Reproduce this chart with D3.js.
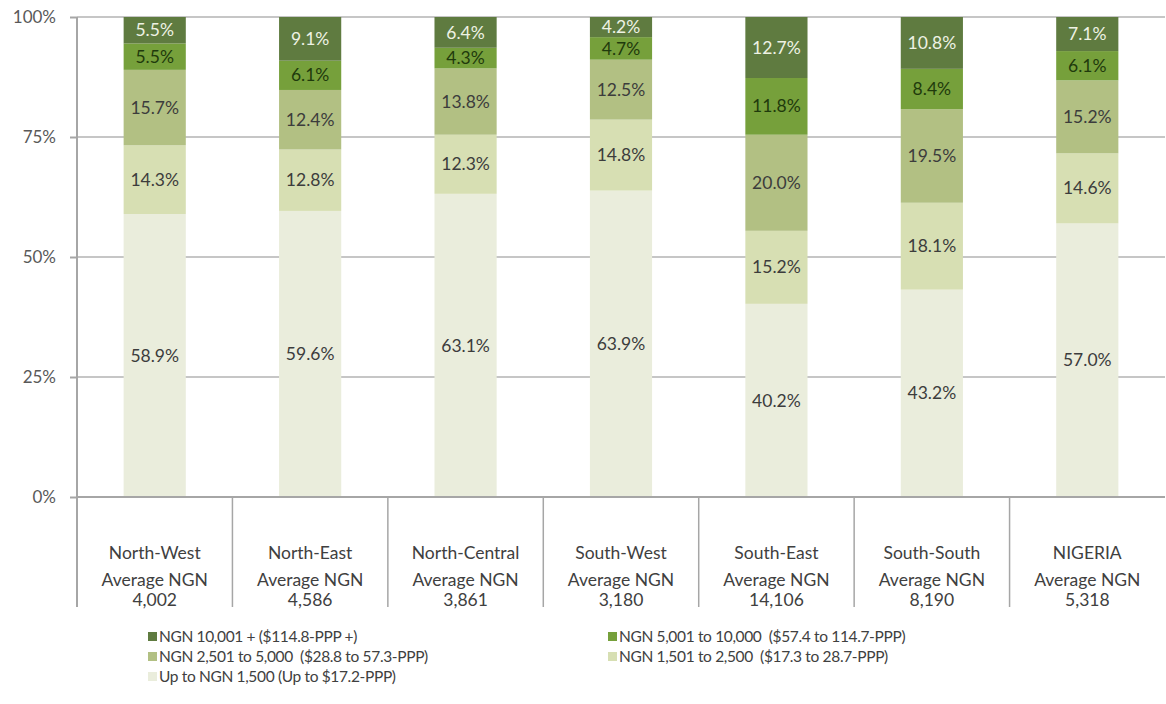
<!DOCTYPE html>
<html>
<head>
<meta charset="utf-8">
<script src="https://cdn.jsdelivr.net/npm/d3@7"></script>
<style>
  body { margin: 0; background: #fff; }
  svg text { font-family: Lato, "Noto Sans", sans-serif; white-space: pre; }
</style>
</head>
<body>
<div id="chart"></div>
<script>
const regions = ["North-West", "North-East", "North-Central", "South-West", "South-East", "South-South", "NIGERIA"];
const averages = ["4,002", "4,586", "3,861", "3,180", "14,106", "8,190", "5,318"];

// series, bottom to top
const seriesKeys = ["upTo1500", "to2500", "to5000", "to10000", "over10000"];
const seriesNames = [
  "Up to NGN 1,500 (Up to $17.2-PPP)",
  "NGN 1,501 to 2,500  ($17.3 to 28.7-PPP)",
  "NGN 2,501 to 5,000  ($28.8 to 57.3-PPP)",
  "NGN 5,001 to 10,000  ($57.4 to 114.7-PPP)",
  "NGN 10,001 + ($114.8-PPP +)"
];
const upTo1500 = [58.9, 59.6, 63.1, 63.9, 40.2, 43.2, 57.0];
const to2500 = [14.3, 12.8, 12.3, 14.8, 15.2, 18.1, 14.6];
const to5000 = [15.7, 12.4, 13.8, 12.5, 20.0, 19.5, 15.2];
const to10000 = [5.5, 6.1, 4.3, 4.7, 11.8, 8.4, 6.1];
const over10000 = [5.5, 9.1, 6.4, 4.2, 12.7, 10.8, 7.1];

const yTicks = [0, 0.25, 0.5, 0.75, 1];

const colors = ["#eaeddc", "#d7dfb3", "#b2c083", "#76a03b", "#5f7b40"];
const labelColors = ["#3c3c3c", "#3c3c3c", "#3c3c3c", "#1f3a0c", "#eef2e4"];

const table = regions.map((r, i) => ({
  region: r,
  upTo1500: upTo1500[i], to2500: to2500[i], to5000: to5000[i],
  to10000: to10000[i], over10000: over10000[i]
}));

const width = 1166, height = 704;
const margin = {top: 17, left: 77, right: 1, bottom: 207};
const plotBottom = height - margin.bottom;

const svg = d3.select("#chart").append("svg")
  .attr("width", width).attr("height", height);

const x = d3.scaleBand()
  .domain(regions)
  .range([margin.left, width - margin.right])
  .paddingInner(0.6).paddingOuter(0.3);

const y = d3.scaleLinear().domain([0, 1]).range([plotBottom, margin.top]);

// gridlines
svg.append("g").selectAll("line")
  .data(yTicks.slice(1))
  .join("line")
  .attr("x1", margin.left).attr("x2", width - margin.right)
  .attr("y1", d => y(d)).attr("y2", d => y(d))
  .attr("stroke", "#c6c6c6").attr("stroke-width", 2);

// y axis
const yAxis = svg.append("g")
  .attr("transform", `translate(${margin.left},0)`)
  .call(d3.axisLeft(y).tickValues(yTicks).tickFormat(d3.format(".0%")).tickSize(7).tickPadding(14));
yAxis.select(".domain").remove();
yAxis.selectAll(".tick line").attr("stroke", "#a6a6a6").attr("stroke-width", 2);
yAxis.selectAll(".tick text").attr("fill", "#595959").style("font-size", "17px");

const stack = d3.stack().keys(seriesKeys).offset(d3.stackOffsetExpand);
const stacked = stack(table);

const layers = svg.append("g").selectAll("g")
  .data(stacked)
  .join("g")
  .attr("fill", (d, i) => colors[i]);

layers.selectAll("rect")
  .data(d => d)
  .join("rect")
  .attr("x", d => x(d.data.region))
  .attr("width", x.bandwidth())
  .attr("y", d => y(d[1]))
  .attr("height", d => y(d[0]) - y(d[1]));

// segment labels
svg.append("g").selectAll("g")
  .data(stacked)
  .join("g")
  .attr("fill", (d, i) => labelColors[i])
  .selectAll("text")
  .data(d => d.map(v => ({v, key: d.key})))
  .join("text")
  .attr("x", d => x(d.v.data.region) + x.bandwidth() / 2)
  .attr("y", d => y((d.v[0] + d.v[1]) / 2))
  .attr("dy", "0.35em")
  .attr("text-anchor", "middle")
  .style("font-size", "17.5px")
  .text(d => d3.format(".1f")(d.v.data[d.key]) + "%");

// axis lines
const axisG = svg.append("g").attr("stroke", "#a6a6a6").attr("stroke-width", 2);
axisG.append("line")
  .attr("x1", margin.left).attr("x2", margin.left)
  .attr("y1", margin.top).attr("y2", plotBottom + 110);
axisG.append("line")
  .attr("x1", margin.left).attr("x2", width - margin.right)
  .attr("y1", plotBottom).attr("y2", plotBottom);
const step = x.step();
axisG.selectAll("line.sep")
  .data(regions.slice(1))
  .join("line")
  .attr("class", "sep")
  .attr("x1", d => x(d) - step * 0.3).attr("x2", d => x(d) - step * 0.3)
  .attr("y1", plotBottom).attr("y2", plotBottom + 110)
  .attr("stroke-width", 1.5);

// category labels
const cat = svg.append("g").attr("fill", "#404040").style("font-size", "17.5px")
  .selectAll("g").data(regions).join("g")
  .attr("transform", d => `translate(${x(d) + x.bandwidth() / 2},0)`);
cat.append("text").attr("text-anchor", "middle").attr("y", plotBottom + 62).text(d => d);
cat.append("text").attr("text-anchor", "middle").attr("y", plotBottom + 89).text("Average NGN");
cat.append("text").attr("text-anchor", "middle").attr("y", plotBottom + 109).text((d, i) => averages[i]);

// legend
const legendOrder = [4, 3, 2, 1, 0];
const legend = svg.append("g").style("font-size", "15.5px").style("letter-spacing", "-0.35px").attr("fill", "#404040")
  .selectAll("g").data(legendOrder).join("g")
  .attr("transform", (d, i) => `translate(${i % 2 === 0 ? 148 : 608},${637 + Math.floor(i / 2) * 20})`);
legend.append("rect").attr("x", 0).attr("y", -5).attr("width", 9).attr("height", 9)
  .attr("fill", d => colors[d]);
legend.append("text").attr("x", 11).attr("dy", "0.35em").text(d => seriesNames[d]);
</script>
</body>
</html>
